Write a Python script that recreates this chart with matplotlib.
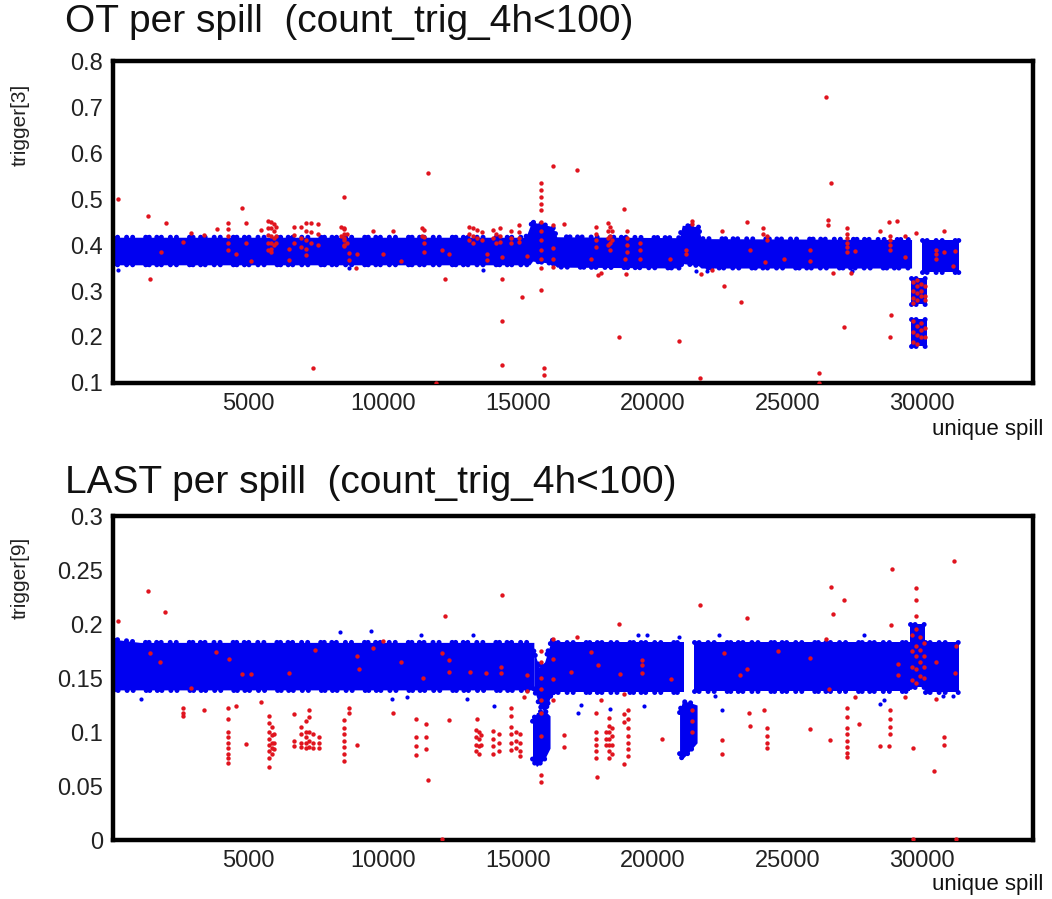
import numpy as np
import matplotlib.pyplot as plt
from matplotlib.ticker import FormatStrFormatter

plt.rcParams['font.family'] = ['Liberation Sans', 'DejaVu Sans']

# ---- OT panel, trigger[3]: dense blue band as (x, low, high) pieces
ot_band_x = [[0, 15300, 15450, 15550, 16300, 16450, 21000, 21100, 21700, 21800, 29600],
             [30000, 31350],
             [29580, 30170],
             [29580, 30170]]
ot_band_lo = [[0.357, 0.357, 0.357, 0.365, 0.360, 0.352, 0.350, 0.360, 0.355, 0.350, 0.350],
              [0.342, 0.342],
              [0.272, 0.272],
              [0.180, 0.180]]
ot_band_hi = [[0.417, 0.417, 0.440, 0.450, 0.440, 0.418, 0.416, 0.443, 0.440, 0.414, 0.412],
              [0.410, 0.410],
              [0.328, 0.328],
              [0.240, 0.240]]
ot_blue_x = [173, 8750, 13700, 21600, 22000, 27400]
ot_blue_y = [0.346, 0.350, 0.345, 0.343, 0.344, 0.343]

# red points, grouped by column: x and the y values seen at that x
ot_red_x = [170, 1284, 1963, 1383, 1778, 2580, 2888, 3383, 3852,
            4247, 4568, 4778, 4938, 5111, 5482,
            5730, 5850, 5950, 6040, 6532, 6692,
            6964, 7150, 7350, 7600, 7396,
            8545, 8444, 8560, 8690, 8750, 9000, 9060, 9654, 10000, 10370, 10670, 11668,
            11450, 11530, 11976, 12200, 12320, 12460,
            13200, 13350, 13500, 13690, 13880,
            14080, 14185, 14340, 14410, 14770, 15050, 15150, 15360,
            15850, 15985, 16320, 16720, 17190,
            17730, 17890, 17980, 18080, 18330, 18420, 18500, 18770, 18940, 18960, 19000, 19060,
            19550, 20650, 20965, 21240, 21470, 21745, 21780, 22210,
            22580, 22640, 23260, 23500, 23600, 24100, 24180, 24240, 24860,
            25830, 26160, 26430, 26500, 26620, 26690, 27110, 27210, 27340, 27520,
            28430, 28760, 28790, 28800, 28840, 29050, 29370,
            29650, 29800, 29950, 30080, 29780,
            30490, 30790, 31150, 31220]
ot_red_y = [[0.500], [0.463], [0.449], [0.327], [0.384], [0.407], [0.427], [0.421], [0.435],
            [0.447, 0.435, 0.420, 0.405, 0.389], [0.380], [0.480], [0.449, 0.404], [0.366], [0.433],
            [0.452, 0.438, 0.422, 0.405, 0.390], [0.450, 0.436, 0.420, 0.405, 0.392, 0.385],
            [0.445, 0.430, 0.415, 0.400], [0.440, 0.420, 0.405], [0.391, 0.368], [0.440, 0.422, 0.404],
            [0.440, 0.415, 0.395], [0.447, 0.430, 0.410, 0.392, 0.378], [0.447, 0.428, 0.405],
            [0.445, 0.425, 0.400], [0.132],
            [0.504, 0.438, 0.425, 0.410, 0.398], [0.440, 0.420], [0.435, 0.415, 0.400], [0.425, 0.405],
            [0.383, 0.368], [0.351], [0.381], [0.430], [0.381], [0.430], [0.366], [0.556],
            [0.436, 0.420], [0.433, 0.418, 0.404, 0.385], [0.100], [0.390], [0.327], [0.380],
            [0.440, 0.425, 0.410], [0.438, 0.420, 0.404], [0.432, 0.415], [0.428, 0.410], [0.380, 0.367],
            [0.433, 0.415], [0.425, 0.404], [0.436, 0.420, 0.407], [0.327, 0.234, 0.139, 0.374],
            [0.431, 0.415, 0.404], [0.444, 0.428, 0.415, 0.407], [0.288], [0.377],
            [0.534, 0.520, 0.505, 0.490, 0.476, 0.450, 0.430, 0.410, 0.390, 0.370, 0.350, 0.302],
            [0.132, 0.118], [0.572, 0.444, 0.393, 0.370, 0.353], [0.445], [0.563],
            [0.370], [0.440, 0.425, 0.410, 0.395], [0.334], [0.340], [0.447, 0.430, 0.415, 0.400],
            [0.440, 0.420, 0.405, 0.390], [0.430, 0.410], [0.199], [0.478], [0.370], [0.336],
            [0.430, 0.415, 0.400, 0.385],
            [0.405, 0.390, 0.370], [0.369], [0.192], [0.390, 0.380], [0.452, 0.445], [0.110], [0.338], [0.346],
            [0.430], [0.311], [0.277], [0.450], [0.390], [0.437, 0.425], [0.364], [0.420, 0.410], [0.370],
            [0.390, 0.365], [0.122, 0.101], [0.721], [0.455, 0.444], [0.534], [0.340], [0.221],
            [0.436, 0.425, 0.415, 0.405, 0.395, 0.385], [0.340], [0.387],
            [0.430], [0.451], [0.199], [0.420, 0.410, 0.400, 0.390], [0.248], [0.452], [0.420, 0.375],
            [0.320, 0.300, 0.285, 0.275, 0.235, 0.210, 0.190],
            [0.325, 0.310, 0.295, 0.280, 0.225, 0.205, 0.185],
            [0.315, 0.300, 0.290, 0.230, 0.215, 0.200],
            [0.310, 0.290, 0.280, 0.220, 0.200], [0.427],
            [0.390, 0.380, 0.370], [0.431, 0.385], [0.355], [0.388]]

# ---- LAST panel, trigger[9]
last_band_x = [[0, 1000, 15600],
               [15600, 15800, 16000, 16250, 16400],
               [15550, 15700, 16000, 16200],
               [16300, 21150],
               [21000, 21100, 21300, 21650],
               [21520, 29550],
               [29550, 30100],
               [30100, 31350]]
last_band_lo = [[0.139, 0.139, 0.139],
                [0.140, 0.125, 0.118, 0.135, 0.138],
                [0.075, 0.068, 0.075, 0.085],
                [0.137, 0.137],
                [0.080, 0.075, 0.080, 0.090],
                [0.138, 0.138],
                [0.142, 0.142],
                [0.137, 0.137]]
last_band_hi = [[0.186, 0.183, 0.183],
                [0.175, 0.160, 0.165, 0.185, 0.185],
                [0.110, 0.118, 0.120, 0.115],
                [0.183, 0.183],
                [0.118, 0.128, 0.128, 0.125],
                [0.183, 0.183],
                [0.200, 0.200],
                [0.183, 0.183]]
last_blue_x = [1040, 8420, 9550, 10350, 10900, 11430, 13130, 13360, 14120,
               17230, 17330, 18430, 19470, 19700, 19780, 20970, 22330, 22460, 22580,
               27830, 28430, 28580, 30760, 31140]
last_blue_y = [0.131, 0.193, 0.194, 0.131, 0.132, 0.190, 0.131, 0.190, 0.124,
               0.118, 0.125, 0.121, 0.190, 0.124, 0.190, 0.188, 0.133, 0.190, 0.120,
               0.190, 0.126, 0.130, 0.133, 0.133]

last_red_x = [173, 1284, 1938, 1383, 1754, 2580, 2888, 3383, 3815, 4247, 4310, 4568,
              4778, 5111, 4938, 5482, 5790, 5900, 5980, 6532, 6692, 6960, 7150, 7260,
              7400, 7470, 7650, 8545, 8760, 9030, 9040, 9130, 9620, 9990, 10370, 10670,
              11220, 11590, 11500, 11680, 12180, 12320, 12440, 13230, 13440, 13480, 13550,
              13630, 13820, 14100, 14300, 14380, 14410, 14760, 14950, 15090, 15240, 15360,
              15850, 16320, 16720, 17190, 16960, 17700, 17890, 17950, 17980, 18100, 18260,
              18380, 18500, 18770, 18790, 18940, 19090, 19620, 20360, 20670, 21760, 21470,
              22560, 22650, 23230, 23500, 23590, 23630, 24120, 24240, 24640, 25820, 26430,
              26570, 26630, 26690, 27110, 26550, 27210, 27520, 27670, 28430, 28760, 28800,
              28820, 28860, 29090, 29370, 29650, 29620, 29760, 29900, 30050, 30490, 30790,
              30420, 31160, 31260, 31200]
last_red_y = [[0.203], [0.231], [0.211], [0.173], [0.165], [0.122, 0.118, 0.115], [0.141], [0.120],
              [0.174], [0.122, 0.112, 0.100, 0.095, 0.090, 0.085, 0.080, 0.076, 0.071], [0.168],
              [0.124], [0.154], [0.154], [0.089], [0.128],
              [0.115, 0.108, 0.100, 0.094, 0.088, 0.082, 0.076, 0.068], [0.105, 0.097, 0.090, 0.085, 0.080],
              [0.098, 0.090, 0.084], [0.155], [0.117, 0.092, 0.087], [0.105, 0.098, 0.090, 0.086],
              [0.110, 0.100, 0.095, 0.090, 0.085], [0.120, 0.114, 0.100, 0.092, 0.086],
              [0.098, 0.090, 0.085], [0.176], [0.095, 0.090, 0.085],
              [0.111, 0.104, 0.098, 0.092, 0.086, 0.080, 0.073], [0.122, 0.118], [0.088], [0.170],
              [0.158], [0.178], [0.184], [0.118], [0.165],
              [0.112, 0.095, 0.087, 0.079], [0.107, 0.095, 0.084], [0.150], [0.056], [0.001, 0.173],
              [0.207], [0.111, 0.167, 0.156], [0.156], [0.102, 0.095, 0.088, 0.082], [0.112],
              [0.100, 0.094, 0.087, 0.080], [0.097, 0.088], [0.155], [0.101, 0.094, 0.087, 0.080],
              [0.098, 0.090, 0.082], [0.160, 0.155], [0.227], [0.122, 0.115, 0.105, 0.098, 0.090, 0.083],
              [0.100, 0.092, 0.085], [0.098, 0.090, 0.082, 0.078], [0.132], [0.153, 0.138],
              [0.175, 0.165, 0.150, 0.140, 0.130, 0.118, 0.096, 0.060, 0.054],
              [0.186, 0.168, 0.149, 0.130], [0.097, 0.086], [0.188], [0.156], [0.174],
              [0.118, 0.100, 0.094, 0.088, 0.082, 0.076], [0.058], [0.162], [0.130],
              [0.100, 0.094, 0.088], [0.113, 0.106, 0.100, 0.094, 0.088, 0.082, 0.076],
              [0.104, 0.096, 0.088, 0.080], [0.200], [0.154], [0.135, 0.117, 0.109, 0.070],
              [0.120, 0.112, 0.104, 0.096, 0.090, 0.084, 0.078], [0.167, 0.162, 0.155], [0.094],
              [0.149], [0.218], [0.120, 0.110, 0.100],
              [0.093, 0.080], [0.173], [0.153], [0.206, 0.158], [0.118], [0.106], [0.120],
              [0.104, 0.096, 0.090, 0.085], [0.175], [0.169, 0.103], [0.186],
              [0.093], [0.234], [0.209], [0.222], [0.140],
              [0.122, 0.114, 0.104, 0.098, 0.092, 0.086, 0.081, 0.077], [0.132], [0.107], [0.087],
              [0.087], [0.120, 0.112, 0.105, 0.098], [0.199], [0.251], [0.163, 0.153], [0.132],
              [0.085, 0.001], [0.190, 0.175, 0.160, 0.148],
              [0.233, 0.222, 0.207, 0.195, 0.180, 0.170, 0.158, 0.145],
              [0.188, 0.176, 0.165, 0.152], [0.182, 0.170, 0.160, 0.150], [0.165, 0.131],
              [0.095, 0.088], [0.064], [0.258], [0.001, 0.180], [0.155]]

x_ticks = [5000, 10000, 15000, 20000, 25000, 30000]
ot_yticks = [0.1, 0.2, 0.3, 0.4, 0.5, 0.6, 0.7, 0.8]
last_yticks = [0, 0.05, 0.1, 0.15, 0.2, 0.25, 0.3]

BLUE = '#0000f0'
RED = '#e0141e'
# irregular dot pattern for the ragged band edge
EDGE_DOTS = (0, (0.01, 0.9, 0.01, 1.8, 0.01, 1.2, 0.01, 2.6, 0.01, 0.7, 0.01, 1.5))


def flatten(xs, ys):
    fx, fy = [], []
    for x, col in zip(xs, ys):
        for y in col:
            fx.append(x)
            fy.append(y)
    return fx, fy


def draw_panel(ax, bx, blo, bhi, blx, bly, rx, ry, ylim, yticks, ylabel, title, ty, ly, xy):
    for x, lo, hi in zip(bx, blo, bhi):
        ax.fill_between(x, lo, hi, color=BLUE, linewidth=0, zorder=2)
        for edge in (lo, hi):
            ax.plot(x, edge, color=BLUE, linewidth=3.6, linestyle=EDGE_DOTS,
                    dash_capstyle='round', zorder=2)
    ax.scatter(blx, bly, s=9, color=BLUE, linewidths=0, zorder=3)
    fx, fy = flatten(rx, ry)
    ax.scatter(fx, fy, s=10, color=RED, linewidths=0, zorder=4)
    ax.set_xlim(0, 34100)
    ax.set_ylim(*ylim)
    ax.set_xticks(x_ticks)
    ax.set_yticks(yticks)
    ax.yaxis.set_major_formatter(FormatStrFormatter('%g'))
    ax.tick_params(length=0, labelsize=17, pad=7, colors='#222222')
    for s in ax.spines.values():
        s.set_linewidth(3.2)
    fig.text(0.062, ty, title, fontsize=28, ha='left', va='center', color='#111111')
    fig.text(0.019, ly, ylabel, fontsize=15, rotation=90, ha='center', va='center',
             color='#222222')
    fig.text(0.9914, xy, 'unique spill', fontsize=16, ha='right', va='center',
             color='#111111')


fig = plt.figure(figsize=(10.52, 8.99), dpi=100)
ax1 = fig.add_axes([0.1074, 0.574, 0.8745, 0.358])
ax2 = fig.add_axes([0.1074, 0.0656, 0.8745, 0.3604])

draw_panel(ax1, ot_band_x, ot_band_lo, ot_band_hi, ot_blue_x, ot_blue_y, ot_red_x, ot_red_y,
           (0.1, 0.8), ot_yticks, 'trigger[3]', 'OT per spill  (count_trig_4h<100)',
           0.9755, 0.861, 0.5217)
draw_panel(ax2, last_band_x, last_band_lo, last_band_hi, last_blue_x, last_blue_y, last_red_x,
           last_red_y, (0, 0.3), last_yticks, 'trigger[9]', 'LAST per spill  (count_trig_4h<100)',
           0.4627, 0.357, 0.0156)

plt.savefig('out.png', dpi=100)
